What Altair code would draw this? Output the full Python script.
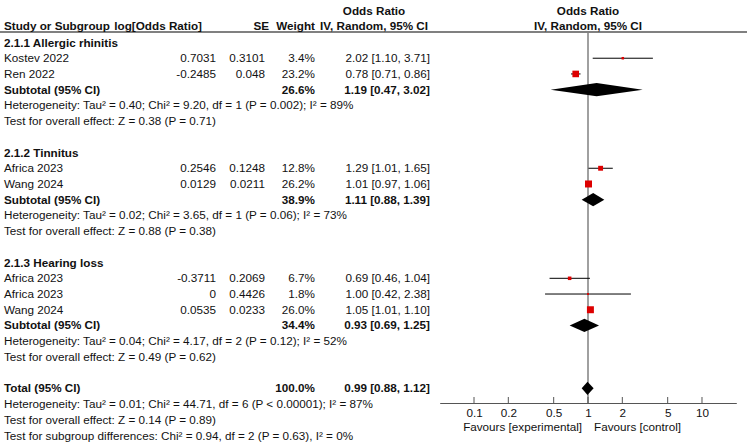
import altair as alt
import pandas as pd

# ---------------- data ----------------
study_names = ["Kostev 2022", "Ren 2022", "Africa 2023", "Wang 2024",
               "Africa 2023", "Africa 2023", "Wang 2024"]
study_rows = [1, 2, 8, 9, 15, 16, 17]
log_or_txt = ["0.7031", "-0.2485", "0.2546", "0.0129", "-0.3711", "0", "0.0535"]
se_txt = ["0.3101", "0.048", "0.1248", "0.0211", "0.2069", "0.4426", "0.0233"]
weights = [3.4, 23.2, 12.8, 26.2, 6.7, 1.8, 26.0]
or_est = [2.02, 0.78, 1.29, 1.01, 0.69, 1.00, 1.05]
or_lo = [1.10, 0.71, 1.01, 0.97, 0.46, 0.42, 1.01]
or_hi = [3.71, 0.86, 1.65, 1.06, 1.04, 2.38, 1.10]

group_titles = ["2.1.1 Allergic rhinitis", "2.1.2 Tinnitus", "2.1.3 Hearing loss"]
group_rows = [0, 7, 14]

sum_labels = ["Subtotal (95% CI)", "Subtotal (95% CI)", "Subtotal (95% CI)", "Total (95% CI)"]
sum_rows = [3, 10, 18, 22]
sum_weights = [26.6, 38.9, 34.4, 100.0]
sum_est = [1.19, 1.11, 0.93, 0.99]
sum_lo = [0.47, 0.88, 0.69, 0.88]
sum_hi = [3.02, 1.39, 1.25, 1.12]

note_rows = [4, 5, 11, 12, 19, 20, 23, 24, 25]
note_texts = [
    "Heterogeneity: Tau\u00b2 = 0.40; Chi\u00b2 = 9.20, df = 1 (P = 0.002); I\u00b2 = 89%",
    "Test for overall effect: Z = 0.38 (P = 0.71)",
    "Heterogeneity: Tau\u00b2 = 0.02; Chi\u00b2 = 3.65, df = 1 (P = 0.06); I\u00b2 = 73%",
    "Test for overall effect: Z = 0.88 (P = 0.38)",
    "Heterogeneity: Tau\u00b2 = 0.04; Chi\u00b2 = 4.17, df = 2 (P = 0.12); I\u00b2 = 52%",
    "Test for overall effect: Z = 0.49 (P = 0.62)",
    "Heterogeneity: Tau\u00b2 = 0.01; Chi\u00b2 = 44.71, df = 6 (P < 0.00001); I\u00b2 = 87%",
    "Test for overall effect: Z = 0.14 (P = 0.89)",
    "Test for subgroup differences: Chi\u00b2 = 0.94, df = 2 (P = 0.63), I\u00b2 = 0%",
]

axis_ticks = [0.1, 0.2, 0.5, 1, 2, 5, 10]
x_domain = [0.05, 20]
favours = ["Favours [experimental]", "Favours [control]"]

# ---------------- style / layout ----------------
FONT = "Liberation Sans"
FS = 11.7
TXT = "#111111"
RED = "#dd0000"
GRAY = "#808080"
W, H_PLOT, H_TOTAL = 747, 403, 442
COL = {"study": 4, "logor": 216, "se": 265, "weight": 315, "ci": 430,
       "or_center": 374, "plot_center": 588}
DIAMOND_HALF = 0.42  # in row units

YS = alt.Scale(domain=[0, 25], range=[42.5, 435.5], nice=False, zero=False)
XS = alt.Scale(type="log", domain=x_domain, range=[439.7, 736.3], nice=False)
AX = alt.Axis(values=axis_ticks, format="~g", ticks=False, grid=False, title=None,
              domainColor="#555555", domainWidth=1, labelFont=FONT, labelFontSize=FS,
              labelColor=TXT, labelPadding=4, labelFlush=False)


def X(field):
    return alt.X(f"{field}:Q", scale=XS, axis=AX)


def Y(field="row"):
    return alt.Y(f"{field}:Q", scale=YS, axis=None)


# ---------------- tables ----------------
studies = pd.DataFrame({
    "row": study_rows, "name": study_names, "logor": log_or_txt, "se": se_txt,
    "w": weights, "est": or_est, "lo": or_lo, "hi": or_hi,
})
studies["wtxt"] = [f"{w:.1f}%" for w in weights]
studies["ci"] = [f"{e:.2f} [{l:.2f}, {h:.2f}]" for e, l, h in zip(or_est, or_lo, or_hi)]

sums = pd.DataFrame({"row": sum_rows, "label": sum_labels, "w": sum_weights,
                     "est": sum_est, "lo": sum_lo, "hi": sum_hi})
sums["wtxt"] = [f"{w:.1f}%" for w in sum_weights]
sums["ci"] = [f"{e:.2f} [{l:.2f}, {h:.2f}]" for e, l, h in zip(sum_est, sum_lo, sum_hi)]

groups = pd.DataFrame({"row": group_rows, "label": group_titles})
notes = pd.DataFrame({"row": note_rows, "label": note_texts})

dia_recs = []
for i, (r, e, l, h) in enumerate(zip(sum_rows, sum_est, sum_lo, sum_hi)):
    dia_recs += [
        {"id": i, "x": l, "yt": r, "yb": r},
        {"id": i, "x": e, "yt": r - DIAMOND_HALF, "yb": r + DIAMOND_HALF},
        {"id": i, "x": h, "yt": r, "yb": r},
    ]
diamonds = pd.DataFrame(dia_recs)


def text_layer(df, field, x, align, bold=False):
    return alt.Chart(df).mark_text(
        align=align, baseline="middle", font=FONT, fontSize=FS,
        fontWeight="bold" if bold else "normal", color=TXT,
    ).encode(x=alt.value(x), y=Y(), text=f"{field}:N")


def fixed_text(txt, x, y, align, bold=False):
    return alt.Chart(pd.DataFrame({"t": [txt]})).mark_text(
        align=align, baseline="middle", font=FONT, fontSize=FS,
        fontWeight="bold" if bold else "normal", color=TXT,
    ).encode(x=alt.value(x), y=alt.value(y), text="t:N")


one = pd.DataFrame({"v": [1]})

layers = [
    # header separator line
    alt.Chart(one).mark_rule(color=GRAY, strokeWidth=2).encode(
        x=alt.value(0), x2=alt.value(W), y=alt.value(32)),
    # line of no effect
    alt.Chart(one).mark_rule(color=GRAY, strokeWidth=1.5).encode(
        x=X("v"), y=alt.value(32), y2=alt.value(H_PLOT)),
    # axis ticks (pointing up)
    alt.Chart(pd.DataFrame({"t": axis_ticks})).mark_rule(color="#555555", strokeWidth=1).encode(
        x=X("t"), y=alt.value(H_PLOT - 6), y2=alt.value(H_PLOT)),
    # CI lines
    alt.Chart(studies).mark_rule(color="#000000", strokeWidth=1).encode(
        x=X("lo"), x2="hi:Q", y=Y()),
    # weight squares
    alt.Chart(studies).mark_square(color=RED, opacity=1, filled=True).encode(
        x=X("est"), y=Y(),
        size=alt.Size("w:Q", scale=alt.Scale(domain=[0, 26.2], range=[0, 49]), legend=None)),
    # diamonds
    alt.Chart(diamonds).mark_area(color="#000000", orient="vertical", interpolate="linear").encode(
        x=X("x"), y=Y("yt"), y2="yb:Q", detail="id:N"),
    # headers
    fixed_text("Odds Ratio", COL["or_center"], 11, "center", True),
    fixed_text("Odds Ratio", COL["plot_center"], 11, "center", True),
    fixed_text("Study or Subgroup", COL["study"], 26, "left", True),
    fixed_text("log[Odds Ratio]", 202, 26, "right", True),
    fixed_text("SE", 269, 26, "right", True),
    fixed_text("Weight", COL["weight"], 26, "right", True),
    fixed_text("IV, Random, 95% CI", COL["or_center"], 26, "center", True),
    fixed_text("IV, Random, 95% CI", COL["plot_center"], 26, "center", True),
    # table body
    text_layer(groups, "label", COL["study"], "left", True),
    text_layer(studies, "name", COL["study"], "left"),
    text_layer(studies, "logor", COL["logor"], "right"),
    text_layer(studies, "se", COL["se"], "right"),
    text_layer(studies, "wtxt", COL["weight"], "right"),
    text_layer(studies, "ci", COL["ci"], "right"),
    text_layer(sums, "label", COL["study"], "left", True),
    text_layer(sums, "wtxt", COL["weight"], "right", True),
    text_layer(sums, "ci", COL["ci"], "right", True),
    text_layer(notes, "label", COL["study"], "left"),
    # favours labels
    fixed_text(favours[0], 582, 427, "right"),
    fixed_text(favours[1], 594, 427, "left"),
]

chart = alt.layer(*layers).properties(
    width=W, height=H_PLOT, autosize="none",
    padding={"left": 0, "top": 0, "right": 0, "bottom": H_TOTAL - H_PLOT},
    background="white",
).configure_view(stroke=None)

chart.save("out.html", embed_options={"renderer": "svg", "actions": False})
